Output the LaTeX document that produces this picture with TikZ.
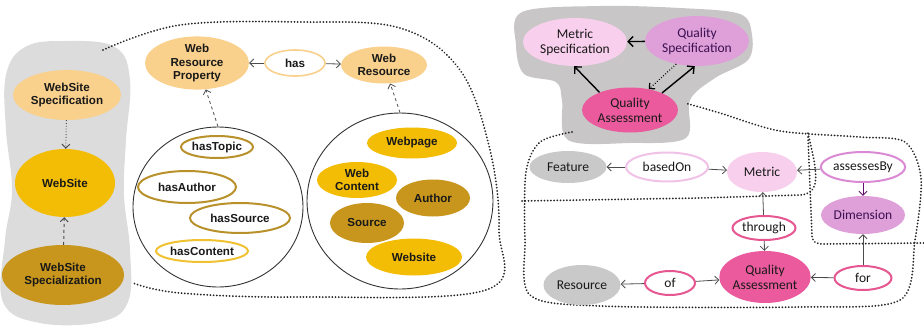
\documentclass[tikz,border=0pt]{standalone}
\usepackage{fontspec}
\setmainfont{Carlito}
\newfontfamily\lfont{Liberation Sans}
\usetikzlibrary{shapes.geometric,arrows.meta}
\definecolor{paleor}{HTML}{F9D08C}
\definecolor{golden}{HTML}{F3BD06}
\definecolor{darkgold}{HTML}{C8961C}
\definecolor{goldline}{HTML}{B8912A}
\definecolor{yellline}{HTML}{F0C232}
\definecolor{lpink}{HTML}{F8CFEC}
\definecolor{orchid}{HTML}{DFA0DA}
\definecolor{hotpink}{HTML}{EA5A9C}
\definecolor{pinkline}{HTML}{E65690}
\definecolor{lpinkline}{HTML}{F1C2E7}
\definecolor{orchline}{HTML}{DA8AD4}
\definecolor{blobL}{HTML}{DCDCDC}
\definecolor{blobR}{HTML}{C8C6C6}
\definecolor{grayN}{HTML}{C9C9C9}
\definecolor{dpurple}{HTML}{3A1050}
\tikzset{
  el/.style={ellipse, inner sep=0pt, align=center},
  ltext/.style={font=\lfont\bfseries\fontsize{11.6}{13.4}\selectfont, text=black!90},
  rtext/.style={font=\fontsize{13.5}{15}\selectfont, text=black!90},
  arr/.style={-{Straight Barb[length=4pt,width=8pt]}, draw=black!70, line width=0.8pt},
  arrB/.style={-{Straight Barb[length=5pt,width=10pt]}, draw=black, line width=1.4pt},
  dotline/.style={draw=black!85, line width=2pt, line cap=round, dash pattern=on 0.01pt off 3.2pt},
}
\begin{document}
\begin{tikzpicture}[x=1pt,y=-1pt]
\useasboundingbox (0,0) rectangle (924,327);
% ---------- left part ----------
\fill[blobL] plot[smooth cycle, tension=0.65] coordinates {(65,41) (115,47) (130,80) (126,140) (124,195) (130,250) (128,302) (100,322) (40,323) (3,302) (5,240) (12,190) (6,130) (6,75) (25,47)};
\draw[dotline] plot[smooth, tension=0.6] coordinates {(103,50) (180,25) (300,22) (400,28) (460,70) (490,150) (499,230) (486,290) (300,297) (180,293) (133,283)};

\node[el, ltext, fill=paleor, minimum width=108pt, minimum height=50pt] (wss) at (67,95) {WebSite\\Specification};
\node[el, ltext, fill=golden, minimum width=100pt, minimum height=68pt] (ws) at (65,183) {WebSite};
\node[el, ltext, fill=darkgold, minimum width=122pt, minimum height=60pt] (wsp) at (63,275) {WebSite\\Specialization};
\draw[arr, dotted, line width=1pt] (wss) -- (ws);
\draw[arr, dashed, line width=1pt] (wsp) -- (ws);

\node[el, ltext, fill=paleor, minimum width=104pt, minimum height=50pt] (wrp) at (197,63) {Web\\Resource\\Property};
\node[el, ltext, fill=white, draw=paleor, line width=1.6pt, minimum width=60pt, minimum height=26pt] (has) at (295,63) {has};
\node[el, ltext, fill=paleor, minimum width=86pt, minimum height=37pt] (wr) at (384,65) {Web\\Resource};
\draw[arr] (has) -- (wrp);
\draw[arr] (has) -- (wr);

\node[el, draw=black!80, line width=0.9pt, minimum width=170pt, minimum height=160pt] (c1) at (218,207) {};
\node[el, ltext, fill=white, draw=goldline, line width=2pt, minimum width=72pt, minimum height=22pt] (ht) at (217,147) {hasTopic};
\node[el, ltext, fill=white, draw=goldline, line width=2pt, minimum width=98pt, minimum height=32pt] (ha) at (187,187) {hasAuthor};
\node[el, ltext, fill=white, draw=goldline, line width=2pt, minimum width=100pt, minimum height=30pt] (hs) at (240,218) {hasSource};
\node[el, ltext, fill=white, draw=yellline, line width=2pt, minimum width=92pt, minimum height=22pt] (hc) at (202,251) {hasContent};
\draw[arr, dashed] (c1.north) -- (wrp);

\node[el, draw=black!80, line width=0.9pt, minimum width=186pt, minimum height=176pt] (c2) at (400,201) {};
\node[el, ltext, fill=golden, minimum width=90pt, minimum height=31pt] (wp) at (412,143) {Webpage};
\node[el, ltext, fill=golden, minimum width=80pt, minimum height=36pt] (wc) at (357,180) {Web\\Content};
\node[el, ltext, fill=darkgold, minimum width=74pt, minimum height=37pt] (au) at (433,198) {Author};
\node[el, ltext, fill=darkgold, minimum width=74pt, minimum height=40pt] (so) at (367,223) {Source};
\node[el, ltext, fill=golden, minimum width=96pt, minimum height=37pt] (wsite) at (414,257) {Website};
\draw[arr, dashed] (c2.north) -- (wr);

% ---------- right part ----------
\fill[blobR] plot[smooth cycle, tension=0.55] coordinates {(522,12) (600,6) (680,8) (740,14) (752,35) (748,60) (715,78) (690,100) (686,138) (630,143) (568,140) (562,100) (556,82) (524,74) (516,45)};
\draw[dotline] plot[smooth, tension=0.5] coordinates {(572,132) (540,142) (526,172) (525,240) (530,295) (600,306) (800,307) (900,300) (915,240) (921,178) (905,142) (860,137) (780,131) (720,113) (685,103)};
\draw[dotline] (522,201) -- (700,198) -- (800,195) .. controls (818,194) and (817,180) .. (814,160) -- (808,133);
\draw[dotline] (808,137) -- (812,236) .. controls (813,243) and (816,244) .. (825,244) -- (924,243);

\node[el, rtext, fill=lpink, minimum width=104pt, minimum height=48pt] (ms) at (575,42) {Metric\\Specification};
\node[el, rtext, fill=orchid, text=dpurple, minimum width=104pt, minimum height=50pt] (qs) at (697,41) {Quality\\Specification};
\node[el, rtext, fill=hotpink, minimum width=96pt, minimum height=45pt] (qa1) at (630,110) {Quality\\Assessment};
\draw[arrB] (qs) -- (ms);
\draw[arrB] (qa1.150) -- (ms.268);
\draw[arrB] (qa1.28) -- (qs.265);
\draw[arr, dotted, draw=black, line width=1.2pt] (qs.228) -- (qa1.48);

\node[el, rtext, fill=grayN, minimum width=77pt, minimum height=32pt] (feat) at (568,167) {Feature};
\node[el, rtext, fill=white, draw=lpinkline, line width=2pt, minimum width=82pt, minimum height=29pt] (based) at (667,167) {basedOn};
\node[el, rtext, fill=lpink, minimum width=70pt, minimum height=40pt] (metric) at (762,172) {Metric};
\node[el, rtext, fill=white, draw=orchline, line width=2pt, minimum width=82pt, minimum height=30pt] (assess) at (863,167) {assessesBy};
\node[el, rtext, fill=orchid, text=dpurple, minimum width=84pt, minimum height=38pt] (dim) at (863,215) {Dimension};
\node[el, rtext, fill=white, draw=pinkline, line width=2pt, minimum width=63pt, minimum height=24pt] (thr) at (764,228) {through};
\node[el, rtext, fill=hotpink, minimum width=90pt, minimum height=52pt] (qa2) at (765,277) {Quality\\Assessment};
\node[el, rtext, fill=white, draw=pinkline, line width=2pt, minimum width=57pt, minimum height=24pt] (forn) at (863,278) {for};
\node[el, rtext, fill=white, draw=pinkline, line width=2pt, minimum width=50pt, minimum height=24pt] (ofn) at (670,283) {of};
\node[el, rtext, fill=grayN, minimum width=77pt, minimum height=40pt] (res) at (582,285) {Resource};

\draw[arr] (based) -- (feat);
\draw[arr] (based) -- (metric);
\draw[arr] (assess) -- (metric);
\draw[arr, draw=dpurple!80!magenta] (assess) -- (dim);
\draw[arr] (thr) -- (metric);
\draw[arr] (thr) -- (qa2);
\draw[arr] (forn) -- (qa2);
\draw[arr] (forn) -- (dim);
\draw[arr] (ofn) -- (res);
\draw[arr] (ofn) -- (qa2);
\end{tikzpicture}
\end{document}
